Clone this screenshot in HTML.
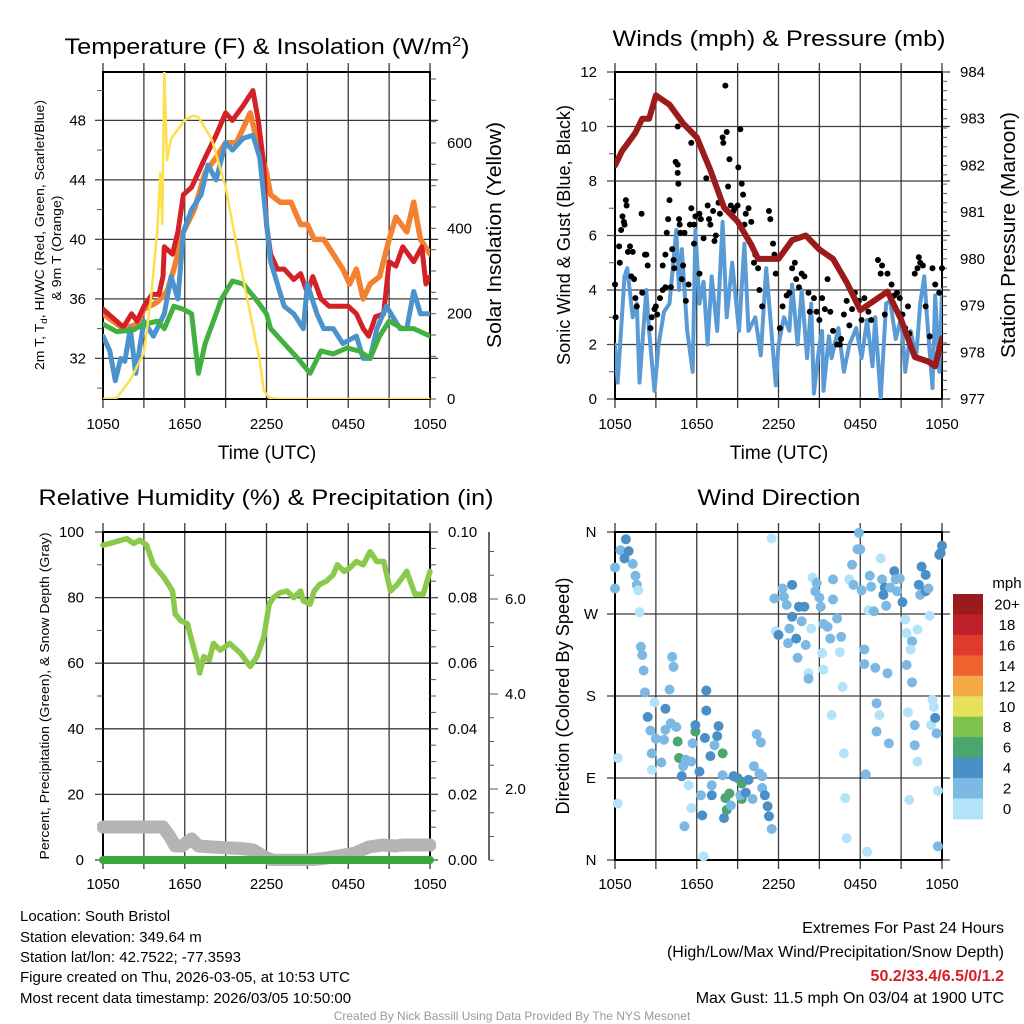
<!DOCTYPE html>
<html><head><meta charset="utf-8"><style>
html,body{margin:0;padding:0;background:#fff;}
svg{display:block;font-family:"Liberation Sans",Arial,sans-serif;}
</style></head><body>
<svg id="chart" width="1024" height="1024" viewBox="0 0 1024 1024" xmlns="http://www.w3.org/2000/svg">
<defs>
<clipPath id="c1"><rect x="103" y="72" width="327" height="327"/></clipPath>
<clipPath id="c2"><rect x="615" y="72" width="327" height="327"/></clipPath>
<clipPath id="c3"><rect x="97" y="526" width="339" height="340"/></clipPath>
<clipPath id="c4"><rect x="609" y="526" width="339" height="340"/></clipPath>
</defs>
<text x="267" y="54" font-size="22" text-anchor="middle" textLength="405" lengthAdjust="spacingAndGlyphs">Temperature (F) &amp; Insolation (W/m<tspan font-size="14" dy="-8">2</tspan><tspan dy="8">)</tspan></text>
<text x="779" y="46" font-size="22" text-anchor="middle" textLength="333" lengthAdjust="spacingAndGlyphs">Winds (mph) &amp; Pressure (mb)</text>
<text x="266" y="505" font-size="22" text-anchor="middle" textLength="455" lengthAdjust="spacingAndGlyphs">Relative Humidity (%) &amp; Precipitation (in)</text>
<text x="779" y="505" font-size="22" text-anchor="middle" textLength="163" lengthAdjust="spacingAndGlyphs">Wind Direction</text>

<text x="267" y="459" font-size="19" text-anchor="middle">Time (UTC)</text>
<text x="779" y="459" font-size="19" text-anchor="middle">Time (UTC)</text>

<text transform="translate(44,235) rotate(-90)" font-size="13" text-anchor="middle" textLength="270" lengthAdjust="spacingAndGlyphs">2m T, T<tspan font-size="9" dy="3">d</tspan><tspan dy="-3">, HI/WC (Red, Green, Scarlet/Blue)</tspan></text>
<text transform="translate(61,248) rotate(-90)" font-size="13" text-anchor="middle" textLength="105" lengthAdjust="spacingAndGlyphs">&amp; 9m T (Orange)</text>
<text transform="translate(501,235) rotate(-90)" font-size="20" text-anchor="middle" textLength="226" lengthAdjust="spacingAndGlyphs">Solar Insolation (Yellow)</text>
<text transform="translate(570,235) rotate(-90)" font-size="18" text-anchor="middle" textLength="260" lengthAdjust="spacingAndGlyphs">Sonic Wind &amp; Gust (Blue, Black)</text>
<text transform="translate(1015,235) rotate(-90)" font-size="20" text-anchor="middle" textLength="246" lengthAdjust="spacingAndGlyphs">Station Pressure (Maroon)</text>
<text transform="translate(49,696) rotate(-90)" font-size="13" text-anchor="middle" textLength="327" lengthAdjust="spacingAndGlyphs">Percent, Precipitation (Green), &amp; Snow Depth (Gray)</text>
<text transform="translate(569,696) rotate(-90)" font-size="18" text-anchor="middle" textLength="237" lengthAdjust="spacingAndGlyphs">Direction (Colored By Speed)</text>

<text x="1007" y="588" font-size="15" text-anchor="middle">mph</text>

<g font-size="15">
<text x="20" y="921">Location: South Bristol</text>
<text x="20" y="942">Station elevation: 349.64 m</text>
<text x="20" y="962">Station lat/lon: 42.7522; -77.3593</text>
<text x="20" y="982">Figure created on Thu, 2026-03-05, at 10:53 UTC</text>
<text x="20" y="1003">Most recent data timestamp: 2026/03/05 10:50:00</text>
</g>
<g font-size="16" text-anchor="end">
<text x="1004" y="933">Extremes For Past 24 Hours</text>
<text x="1004" y="957">(High/Low/Max Wind/Precipitation/Snow Depth)</text>
<text x="1004" y="981" fill="#d42027" font-weight="bold">50.2/33.4/6.5/0/1.2</text>
<text x="1004" y="1003">Max Gust: 11.5 mph On 03/04 at 1900 UTC</text>
</g>
<text x="512" y="1020" font-size="12" fill="#999" text-anchor="middle">Created By Nick Bassill Using Data Provided By The NYS Mesonet</text>
</svg>
<script>
const xTickLabels = ['1050','1650','2250','0450','1050'];
const tempTicks = [32,36,40,44,48];
const solarTicks = [0,200,400,600];
const windTicks = [0,2,4,6,8,10,12];
const pressTicks = [977,978,979,980,981,982,983,984];
const rhTicks = [0,20,40,60,80,100];
const precipTickLabels = ['0.00','0.02','0.04','0.06','0.08','0.10'];
const snowTicks = [2,4,6];
const dirTicks = [0,90,180,270,360];
const dirLabels = ['N','E','S','W','N'];
const speedBins = ['20+','18','16','14','12','10','8','6','4','2','0'];
const speedColors = ['#9b1a1c','#c0202a','#de3a2e','#ef6330','#f5a947','#e6e05a','#7cc24d','#4aa56e','#4a8fc5','#7bb8e3','#b3e3f9'];

const tempRed = [[0,35.3],[1,34.5],[1.5,34.1],[2.1,35],[2.5,34.5],[3,35.5],[3.6,36.3],[4.1,36.3],[4.4,37.5],[4.5,39.5],[5.1,39],[5.5,40.5],[5.9,43],[6.5,43.5],[7,44.5],[7.5,45.5],[8.3,47],[9,48.5],[9.5,48],[10.3,49],[11,50],[11.4,48],[11.8,45],[12,41],[12.3,39],[12.8,38],[13.3,38],[14,37.3],[14.5,37.7],[15,36.4],[15.4,37.5],[16,36],[16.6,35.5],[17.3,35.5],[18,35.5],[18.6,35],[19.1,34],[19.5,33.5],[20,34.8],[20.6,35],[21,38.5],[21.5,38.2],[22,39.5],[22.8,38.5],[23.4,39.5],[23.7,37],[24,37.5]];
const tempOrange = [[0,35],[1.5,34],[2.5,34.3],[3,35.3],[4,35.8],[4.7,36.5],[5.2,38],[5.9,40.5],[6.7,42],[7.5,44.5],[8.3,45.5],[9,46.5],[9.8,46.5],[10.8,48.5],[11.2,47],[12,44.5],[12.3,43],[13,42.5],[13.8,42.5],[14.5,41],[15,41],[15.5,40],[16.2,40],[16.9,39],[17.6,38],[18.1,37],[18.6,38],[19.1,36],[19.6,37],[20.3,37.5],[21,40],[21.5,41.5],[22.3,40.5],[22.8,42.5],[23.3,40],[24,39]];
const tempDew = [[0,34.3],[1,33.8],[2.2,33.9],[3,34.3],[4,34.5],[4.5,34],[5.2,35.5],[5.9,35.3],[6.5,35],[7,31],[7.5,33],[8.3,35],[8.7,36],[9.5,37.2],[10.3,37],[11.2,36],[12,35],[12.3,34],[13.3,33],[14.3,32],[15.2,31],[16,32.5],[16.9,32.3],[17.9,32.7],[18.8,32.5],[19.6,32],[20.3,33.5],[21,34.5],[22,34],[22.8,34],[24,33.5]];
const tempWindChill = [[0,33.5],[0.5,32.5],[0.9,30.5],[1.3,32],[1.6,31.8],[2,34],[2.4,31],[3,34.5],[3.7,33.5],[4.5,35],[5,37.5],[5.5,36],[5.9,40.5],[6.5,42],[7.2,43],[7.7,45],[8.3,44],[9,46.5],[9.5,46],[10.3,46.8],[11,47],[11.5,45.5],[12.3,38.5],[12.8,37],[13.3,35.5],[14,35],[14.7,34],[15,37],[15.7,35],[16.2,34],[16.9,34],[17.6,33],[18.6,33.5],[19.1,32],[19.6,32],[20.1,34],[20.8,35.5],[21.8,34],[22.3,34],[22.8,36.5],[23.3,35],[24,35]];
const solar = [[0,0],[1,2],[2,45],[3,108],[3.5,230],[4,400],[4.2,530],[4.35,410],[4.5,766],[4.7,560],[5,610],[6,654],[6.6,664],[7,661],[8,607],[9,497],[10,326],[11,169],[11.5,90],[11.8,20],[12.2,3],[13,0],[24,0]];

const pressure = [[0,982],[0.5,982.3],[1,982.5],[1.5,982.7],[2,983],[2.5,983],[3,983.5],[4,983.3],[5,982.9],[6,982.6],[7,981.9],[8,981.1],[9,980.8],[10,980.3],[10.5,980],[12,980],[13,980.4],[14,980.5],[15,980.2],[16,980],[17,979.5],[18,978.9],[19,979.1],[20,979.3],[21,978.7],[22,977.9],[23,977.8],[23.5,977.7],[24,978.3]];
const windSpeed = [[0,2],[0.2,0.6],[0.7,4.5],[0.9,4.8],[1.3,3],[1.6,3.5],[1.8,0.6],[2.3,4],[2.5,2.5],[2.9,0.3],[3.2,2],[3.6,3.2],[4,3.5],[4.5,6.2],[4.7,4],[4.9,5.5],[5.3,2.5],[5.7,1],[5.9,6.2],[6.2,3.5],[6.5,4.3],[6.8,2],[7.1,4.5],[7.5,2.5],[7.9,6.5],[8.2,3],[8.6,5],[9.1,2.5],[9.5,5.7],[9.8,2.5],[10.3,3],[10.7,1.6],[11.1,4.8],[11.4,3],[11.8,0.5],[12,2],[12.4,3],[12.8,2.5],[13,4.2],[13.4,2],[13.7,4],[14.1,1.5],[14.4,3.5],[14.6,0.2],[15,2],[15.2,2.5],[15.3,0.3],[15.7,2.3],[15.9,1.5],[16.4,2.6],[16.8,1],[17.2,2],[17.7,2.6],[18.1,1.5],[18.5,2.9],[18.9,1.2],[19.1,3],[19.5,0],[19.9,3.5],[20.2,3.6],[20.6,2.2],[21,3],[21.3,1],[21.7,2.5],[22.1,1.5],[22.4,3.5],[22.7,4.5],[22.9,3],[23.3,0.4],[23.5,3.8],[23.8,1],[24,4]];
const gusts = [[0,4.2],[0.05,3],[0.3,5.6],[0.35,5],[0.45,6.2],[0.55,6.7],[0.65,6.5],[0.7,6.4],[0.8,7.3],[0.85,7.1],[0.95,5.4],[1.1,5.6],[1.2,4.5],[1.3,5.4],[1.4,4.4],[1.5,3.7],[1.6,3.4],[1.95,6.8],[2,3.9],[2.2,5.3],[2.3,5.3],[2.4,4.9],[2.6,2.6],[2.7,3],[2.9,3.3],[3,3.4],[3.1,3.1],[3.3,3.7],[3.5,4],[3.5,4.9],[3.7,5.3],[3.7,4.1],[3.8,6.1],[3.9,6.6],[4,7.3],[4.1,4.1],[4.2,5.5],[4.3,5.1],[4.35,4.8],[4.45,8.7],[4.6,8.3],[4.6,8.6],[4.65,7.9],[4.7,6.6],[4.75,6.4],[4.8,6.1],[4.6,10],[4.9,4.4],[5,4.9],[5.1,6.1],[5.2,3.6],[5.4,4.2],[5.5,6.4],[5.6,9.4],[5.6,7],[5.8,6.4],[5.8,5.7],[5.9,6.7],[6.2,6.8],[6.2,4.6],[6.3,6.6],[6.5,5.9],[6.7,8.1],[6.8,7.1],[6.9,6.6],[7,6.4],[7.2,6.9],[7.3,5.8],[7.4,6],[7.6,7.2],[7.7,6.8],[7.9,9.6],[7.95,9.4],[8.1,11.5],[8.2,9.8],[8.3,7.8],[8.4,8.8],[8.5,7.1],[8.7,6.9],[8.8,7],[9,7.1],[9.05,8.5],[9.2,9.9],[9.3,7.9],[9.4,7.5],[9.5,6.4],[9.6,6.8],[9.8,7],[10,6.5],[10.2,5],[10.3,5.3],[10.5,4.8],[10.6,4],[10.8,3.4],[11.3,6.9],[11.4,6.6],[11.6,5.7],[11.7,5.3],[11.8,4.6],[12.1,2.6],[12.3,3.4],[12.6,3.8],[12.8,3.9],[13,4.8],[13.2,5],[13.3,4.4],[13.5,4.1],[13.7,4.6],[13.9,4.5],[14.2,3.9],[14.3,3.2],[14.6,3.7],[14.8,3.2],[15,2.9],[15.2,3.7],[15.4,3.3],[15.6,4.4],[15.8,3.2],[16,2.5],[16.3,2],[16.5,2],[16.6,2.2],[16.8,3.1],[17,3.6],[17.2,2.7],[17.4,3.3],[17.6,3.9],[17.9,3.6],[18.1,2.9],[18.3,3.7],[18.6,3.2],[18.8,2.9],[19.3,5.1],[19.5,4.6],[19.6,4.9],[19.8,3.1],[20,4.6],[20.3,4.2],[20.5,3.8],[20.7,3.9],[20.9,3.7],[21.1,3.1],[21.3,2.6],[21.5,3.4],[21.6,2.4],[22,4.6],[22.2,4.8],[22.3,5.2],[22.4,5],[22.6,4.9],[22.8,3.4],[23.1,2.3],[23.3,4.8],[23.5,4.2],[23.8,3.9],[24,4.8]];

const humidity = [[0,96],[0.5,96.5],[1.75,98],[2.25,96.5],[2.7,97.5],[3.2,96],[3.7,90],[4.5,86],[4.8,84],[5.1,82],[5.3,75],[5.7,73],[6.2,72],[6.5,67],[6.9,61],[7.1,57],[7.4,62],[7.8,61],[8.1,66],[8.6,64],[9.3,66],[10.1,63],[10.8,59],[11.3,62],[11.8,68],[12.2,78],[12.5,80],[13,81.5],[13.5,82],[14,80],[14.5,82],[14.7,79],[15.2,78],[15.5,82],[15.9,84],[16.4,85],[16.9,87],[17.2,90],[17.7,88],[18.1,89],[18.6,91],[19.1,90],[19.6,94],[20.1,91],[20.6,91],[21.1,82],[21.6,84],[22.3,88],[22.9,81],[23.5,81],[24,88]];
const precip = [[0,0],[24,0]];
const snowDepth = [[0,1.2],[4.4,1.2],[4.9,1.0],[5.3,0.8],[5.8,0.8],[6.5,0.95],[7,0.8],[8,0.78],[10,0.75],[11,0.72],[12,0.55],[12.5,0.5],[15,0.5],[16.5,0.55],[17.5,0.6],[18.5,0.65],[19.5,0.78],[20.5,0.82],[21.5,0.8],[22,0.82],[24,0.82]];

const windDir = [[0.8,352,5],[0,321,3],[0,298,3],[0.4,340,3],[0.7,331,5],[1,339,5],[1.3,325,3],[1.5,312,3],[1.6,302,3],[1.7,296,1],[1.8,272,1],[1.9,234,3],[2,225,3],[2.1,208,3],[2.2,184,3],[2.4,157,5],[2.6,142,3],[2.9,173,1],[3,133,3],[2.7,117,3],[3.4,107,3],[2.7,99,1],[0.2,112,1],[0.2,62,1],[3.7,166,5],[4,187,3],[4.2,223,3],[4.3,212,3],[4.1,150,3],[3.7,143,3],[4.5,146,3],[4.6,130,7],[4.7,112,7],[3.6,132,3],[5,103,3],[4.9,92,5],[5.2,110,3],[5.6,108,3],[5.4,82,1],[5.6,57,1],[5.1,37,3],[5.9,141,7],[5.9,148,5],[5.7,128,3],[6.2,97,5],[6.3,71,3],[6.4,49,5],[6.5,4,1],[6.7,186,5],[6.7,164,5],[6.6,134,5],[7,114,5],[7.1,82,3],[7.1,71,5],[7.5,136,5],[7.6,147,5],[7.3,126,3],[7.9,117,7],[7.9,93,3],[8.1,68,7],[8.4,73,7],[8.2,55,7],[8,46,5],[8.5,60,3],[8.7,92,5],[9,90,5],[9.3,84,7],[9.3,67,7],[9.2,71,3],[9.6,74,5],[9.8,88,5],[10.1,67,3],[10.2,103,3],[10.4,138,3],[10.7,129,3],[10.6,95,3],[10.8,92,3],[10.8,79,3],[11,71,5],[11.2,59,5],[11.3,48,5],[11.5,34,3],[11.5,353,1],[11.7,287,3],[11.8,251,1],[12,247,5],[12.3,298,3],[12.4,289,3],[12.6,280,3],[12.8,254,3],[13,302,5],[13,267,5],[12.7,238,3],[13.3,243,5],[13.4,222,3],[13.5,278,5],[13.9,278,5],[13.7,262,3],[14,236,3],[14.2,205,1],[14.2,199,3],[14.4,254,1],[14.5,310,1],[14.7,295,3],[14.8,304,3],[15,288,3],[15.1,278,3],[15.3,259,3],[15.6,256,3],[15.8,243,3],[15.2,227,1],[15.3,209,1],[15.9,159,1],[16,308,3],[16,286,3],[16.3,265,3],[16.6,245,3],[16.5,228,1],[16.7,190,1],[16.8,117,1],[16.9,68,1],[17,24,1],[17.2,308,1],[17.4,324,3],[17.5,302,3],[17.8,341,3],[17.9,359,3],[18,341,3],[18.1,296,3],[18.3,231,3],[18.3,215,3],[18.4,94,3],[18.5,9,1],[18.6,274,1],[18.7,312,3],[18.8,300,3],[19,273,3],[19.1,211,3],[19.2,172,3],[19.4,159,1],[19.2,141,3],[19.5,331,1],[19.6,308,3],[19.7,291,5],[19.8,299,5],[19.9,279,3],[20,205,3],[20.1,128,3],[20.2,299,3],[20.5,317,5],[20.6,308,3],[20.7,295,3],[20.9,309,3],[21.1,283,5],[21.3,264,1],[21.4,249,1],[21.4,214,3],[21.6,66,1],[21.5,162,1],[21.8,240,3],[21.7,231,1],[21.8,195,3],[22,148,3],[22,126,3],[22.2,108,1],[22.2,253,1],[22.3,302,5],[22.4,291,3],[22.5,322,5],[22.8,313,5],[22.8,295,5],[23,298,3],[23.1,268,1],[23.2,148,1],[23.3,176,1],[23.4,168,1],[23.5,156,5],[23.6,139,3],[23.7,76,1],[23.7,15,3],[23.8,335,5],[24,345,5],[23.9,337,5]];

const NS = 'http://www.w3.org/2000/svg';
const svg = document.getElementById('chart');
function mk(tag, attrs, parent) {
  const e = document.createElementNS(NS, tag);
  for (const k in attrs) e.setAttribute(k, attrs[k]);
  (parent || svg).appendChild(e);
  return e;
}
const P1 = {x0:103, x1:430, y0:72, y1:399};
const P2 = {x0:615, x1:942, y0:72, y1:399};
const P3 = {x0:103, x1:430, y0:532, y1:860};
const P4 = {x0:615, x1:942, y0:532, y1:860};
function xs(p) { return t => p.x0 + (p.x1 - p.x0) * t / 24; }
function ys(p, lo, hi) { return v => p.y1 - (p.y1 - p.y0) * (v - lo) / (hi - lo); }
const x1 = xs(P1), x2 = xs(P2), x3 = xs(P3), x4 = xs(P4);
const yTemp = ys(P1, 29.27, 51.25);
const ySolar = ys(P1, 0, 766.4);
const yWind = ys(P2, 0, 12);
const yPress = ys(P2, 977, 984);
const yRH = ys(P3, 0, 100);
const ySnow = v => 884 - 47.5 * v;
const yDir = ys(P4, 0, 360);

function pathD(pts, xf, yf) {
  return pts.map((p, i) => (i ? 'L' : 'M') + xf(p[0]).toFixed(1) + ',' + yf(p[1]).toFixed(1)).join('');
}

function grid(p, name, yVals, yf) {
  const g = mk('g', {stroke:'#3a3a3a', 'stroke-width':'1.3'});
  
  
  const xf = xs(p);
  for (let t = 0; t <= 24; t += 3) {
    const l = mk('line', {x1:xf(t), x2:xf(t), y1:p.y0 - 9, y2:p.y1 + 9}, g);
    
    
  }
  yVals.forEach(v => {
    const l = mk('line', {x1:p.x0 - 8, x2:p.x1 + 8, y1:yf(v), y2:yf(v)}, g);
    
    
  });
  const b = mk('rect', {x:p.x0, y:p.y0, width:p.x1 - p.x0, height:p.y1 - p.y0, fill:'none', stroke:'#000', 'stroke-width':'2'});
  
  
  const top = p.y1 > 800 ? 889 : 429;
  xTickLabels.forEach((s, i) => {
    const tx = mk('text', {x:xf(i * 6), y:top, 'font-size':'15', 'text-anchor':'middle'});
    
    
    tx.textContent = s;
  });
}
function yLabels(vals, yf, x, anchor, name, fmt) {
  vals.forEach((v, i) => {
    const tx = mk('text', {x:x, y:yf(v) + 5, 'font-size':'15', 'text-anchor':anchor});
    
    
    tx.textContent = fmt ? fmt(v, i) : v;
  });
}
function minor(x, lo, hi, step, yf, len, name) {
  for (let v = lo; v <= hi + 1e-9; v += step) {
    const l = mk('line', {x1:x, x2:x + len, y1:yf(v), y2:yf(v), stroke:'#555', 'stroke-width':'1'});
    
    
  }
}
function series(pts, xf, yf, color, w, clip, name) {
  const e = mk('path', {d:pathD(pts, xf, yf), fill:'none', stroke:color, 'stroke-width':w, 'stroke-linejoin':'round', 'stroke-linecap':'round', 'clip-path':'url(#' + clip + ')'});
  
  
  return e;
}

// Panel 1
grid(P1, 'temperature', tempTicks, yTemp);
minor(P1.x0, 30, 50, 2, yTemp, -6, 'temp-minor-tick');
minor(P1.x1, 0, 750, 50, ySolar, 6, 'solar-minor-tick');
yLabels(tempTicks, yTemp, 86, 'end', 'temp-y-tick-label');
yLabels(solarTicks, ySolar, 447, 'start', 'solar-y-tick-label');
series(tempOrange, x1, yTemp, '#f4812f', 5.5, 'c1', 'temp-9m-line');
series(tempRed, x1, yTemp, '#d42027', 5, 'c1', 'temp-2m-line');
series(tempWindChill, x1, yTemp, '#4b93cc', 5, 'c1', 'windchill-line');
series(tempDew, x1, yTemp, '#41b040', 5, 'c1', 'dewpoint-line');
series(solar, x1, ySolar, '#fce04e', 2.5, 'c1', 'solar-line');

// Panel 2
grid(P2, 'wind', windTicks, yWind);
minor(P2.x0, 0, 12, 1, yWind, -6, 'wind-minor-tick');
minor(P2.x1, 977, 984, 0.2, yPress, 5, 'pressure-minor-tick');
yLabels(windTicks, yWind, 597, 'end', 'wind-y-tick-label');
yLabels(pressTicks, yPress, 960, 'start', 'pressure-y-tick-label');
series(windSpeed, x2, yWind, '#5a9bd5', 4, 'c2', 'wind-speed-line');
gusts.forEach(g => {
  const c = mk('circle', {cx:x2(g[0]), cy:yWind(g[1]), r:3, fill:'#000'});
  
  
});
series(pressure, x2, yPress, '#9b1b1b', 6, 'c2', 'pressure-line');

// Panel 3
grid(P3, 'humidity', rhTicks, yRH);
minor(P3.x0, 0, 100, 10, yRH, -6, 'rh-minor-tick');
minor(P3.x1, 0, 100, 5, yRH, 6, 'precip-minor-tick');
yLabels(rhTicks, yRH, 84, 'end', 'rh-y-tick-label');
yLabels(rhTicks, yRH, 448, 'start', 'precip-y-tick-label', (v, i) => precipTickLabels[i]);
const sa = mk('line', {x1:489, x2:489, y1:P3.y0, y2:P3.y1, stroke:'#333', 'stroke-width':'1.5'});


minor(489, 0.5, 7, 0.5, ySnow, 5, 'snow-minor-tick');
minor(489, 2, 6, 2, ySnow, 9, 'snow-major-tick');
yLabels(snowTicks, ySnow, 505, 'start', 'snow-y-tick-label', v => v.toFixed(1));
series(snowDepth, x3, ySnow, '#b4b4b4', 13, 'c3', 'snow-depth-line');
series(precip, x3, v => yRH(v), '#3aa83a', 8, 'c3', 'precip-line');
series(humidity, x3, yRH, '#8cc84b', 5.5, 'c3', 'humidity-line');

// Panel 4
grid(P4, 'direction', dirTicks, yDir);
yLabels(dirTicks, yDir, 591, 'middle', 'direction-y-tick-label', (v, i) => dirLabels[i]);
windDir.forEach(d => {
  const bin = Math.min(10, Math.floor(d[2] / 2));
  const c = mk('circle', {cx:x4(d[0]), cy:yDir(d[1]), r:5, fill:speedColors[10 - bin]});
  
  
});
speedBins.forEach((s, i) => {
  const y = 594 + i * 20.45;
  const r = mk('rect', {x:953, y:y, width:30, height:20.9, fill:speedColors[i]});
  
  
  const t = mk('text', {x:1007, y:y + 15.5, 'font-size':'15', 'text-anchor':'middle'});
  
  
  t.textContent = s;
});
</script>
</body></html>
